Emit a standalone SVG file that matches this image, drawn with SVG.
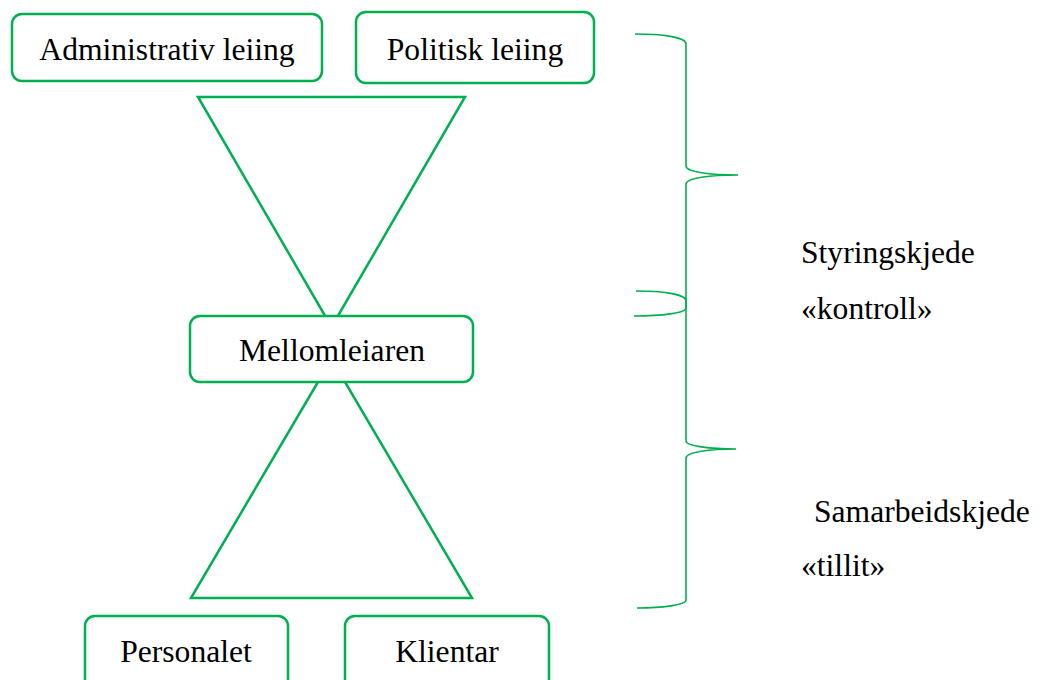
<svg xmlns="http://www.w3.org/2000/svg" width="1041" height="680" viewBox="0 0 1041 680">
<style>
.box{fill:#fff;stroke:#00B050;stroke-width:2.5}
.tri{fill:none;stroke:#00B050;stroke-width:2.5}
.brace{fill:none;stroke:#00B050;stroke-width:1.6}
.t{font-family:"Liberation Serif","Times New Roman",serif;font-size:31.6px;fill:#000}
.c{text-anchor:middle}
</style>
<rect width="1041" height="680" fill="#fff"/>
<g id="connectors">
<polygon class="tri" points="198,97 465,97 331.5,327"/>
<polygon class="tri" points="191,598 472,598 331.5,359"/>
<path class="brace" d="M635,34 C662,34 686,37 686,44 L686,166 C686,172 710,175 738,175 C710,175 686,178 686,184 L686,308 C686,313 662,316 634,316"/>
<path class="brace" d="M636,291 C662,291 686,294 686,301 L686,441 C686,446 710,449 736,449 C710,449 686,452 686,458 L686,600 C686,605 662,608 637,608"/>
</g>
<g id="admin"><rect class="box" x="12" y="14" width="310" height="67" rx="10"/><text class="t c" x="167" y="60">Administrativ leiing</text></g>
<g id="politisk"><rect class="box" x="356" y="12" width="238" height="71" rx="10"/><text class="t c" x="475" y="60">Politisk leiing</text></g>
<g id="mellom"><rect class="box" x="190" y="316" width="283" height="66" rx="10"/><text class="t c" x="332" y="361">Mellomleiaren</text></g>
<g id="personalet"><rect class="box" x="85" y="616" width="203" height="80" rx="10"/><text class="t c" x="186" y="662">Personalet</text></g>
<g id="klientar"><rect class="box" x="345" y="616" width="204" height="80" rx="10"/><text class="t c" x="447" y="662">Klientar</text></g>
<g id="styring"><text class="t" x="801" y="263">Styringskjede</text><text class="t" x="801" y="319">«kontroll»</text></g>
<g id="samarbeid"><text class="t" x="814" y="522">Samarbeidskjede</text><text class="t" x="801" y="576">«tillit»</text></g>
</svg>
